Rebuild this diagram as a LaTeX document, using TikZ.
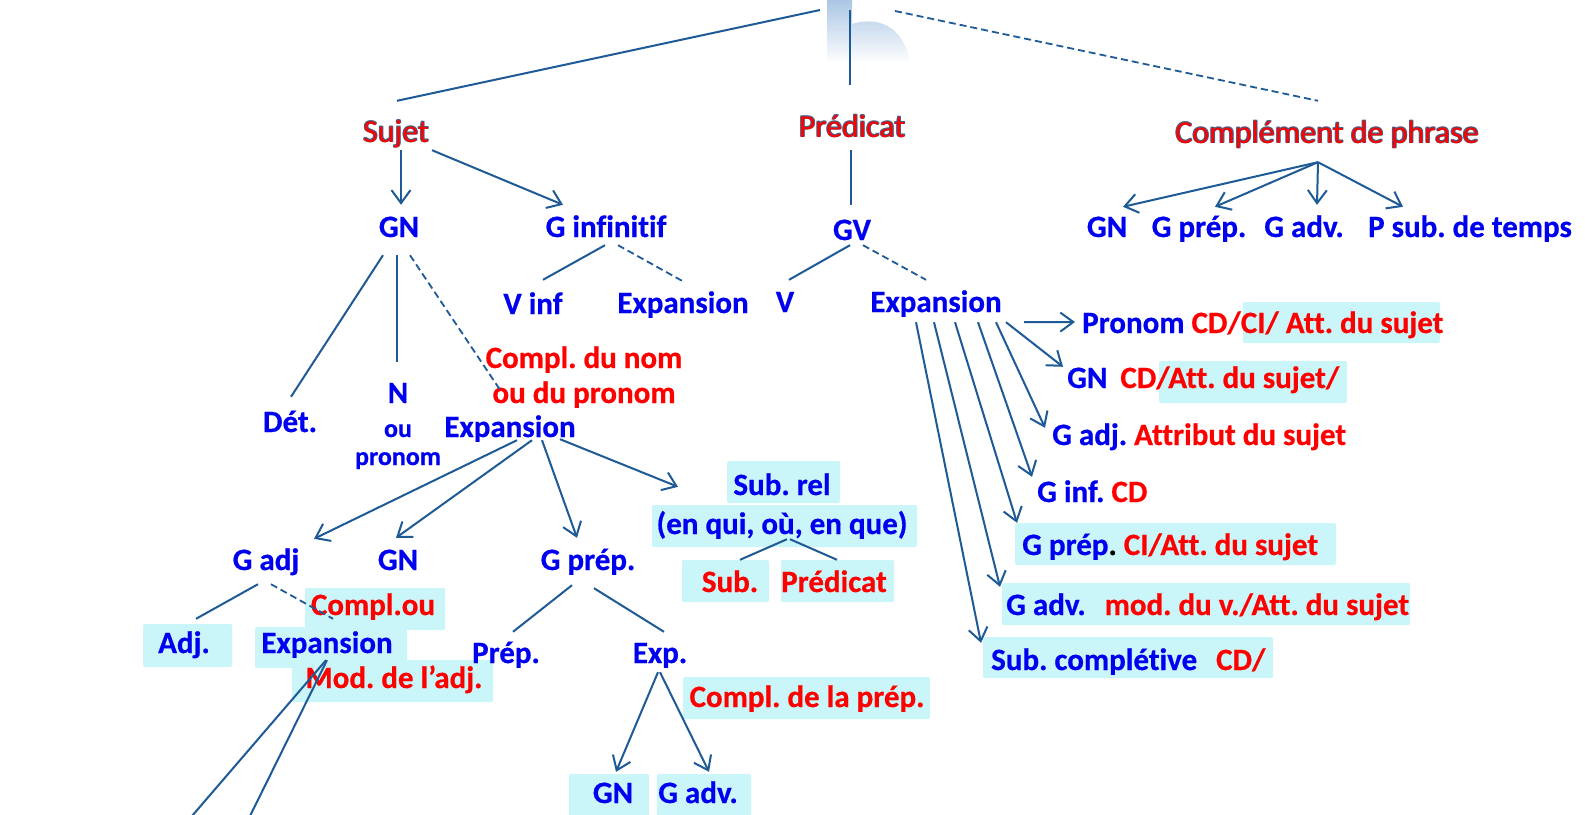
\documentclass[tikz,border=0pt]{standalone}
\usepackage{fontspec}
\setmainfont{Carlito}[BoldFeatures={FakeBold=0.6},Ligatures=NoCommon]
\usetikzlibrary{arrows.meta,calc}
\definecolor{tb}{RGB}{0,0,240}
\definecolor{tr}{RGB}{255,0,0}
\definecolor{ts}{RGB}{70,95,135}
\definecolor{lc}{RGB}{30,90,150}
\definecolor{hc}{RGB}{202,246,249}
\definecolor{wm}{RGB}{150,185,222}
\newcommand{\outl}[1]{%
 \rlap{\hspace{0.8pt}\raisebox{-0.8pt}{\color{ts}#1}}%
 \rlap{\hspace{-0.8pt}\raisebox{0.8pt}{\color{ts}#1}}%
 \rlap{\hspace{0.8pt}\raisebox{0.8pt}{\color{ts}#1}}%
 \rlap{\hspace{-0.8pt}\raisebox{-0.8pt}{\color{ts}#1}}%
 {\color{tr}#1}}
\frenchspacing
\begin{document}
\begin{tikzpicture}[x=1pt,y=-1pt,
  lbl/.style={inner sep=0pt, text height=20pt, text depth=6pt, font=\fontsize{31}{36}\selectfont\bfseries, text=tb},
  rlbl/.style={lbl, text=tr},
  small/.style={lbl, font=\fontsize{26}{30}\selectfont\bfseries},
  ttl/.style={inner sep=0pt, text height=20pt, text depth=6pt, font=\fontsize{32}{38}\selectfont},
  ln/.style={draw=lc, line width=2pt},
  dsh/.style={ln, line width=1.8pt, dash pattern=on 7pt off 4pt},
  arr/.style={ln, -{Straight Barb[length=13pt,width=19pt]}},
  hl/.style={fill=hc, rounded corners=2pt},
]
\useasboundingbox (0,0) rectangle (1585,814);
\fill[white] (0,0) rectangle (1585,814);
% watermark
\shade[top color=wm, bottom color=white, opacity=0.8]
  (827,0) -- (852,0) -- (852,24) .. controls (885,14) and (906,34) .. (910,63) -- (827,63) -- cycle;

% highlight boxes
\fill[hl] (1243,302) rectangle (1440,343);
\fill[hl] (1159,361) rectangle (1347,403);
\fill[hl] (1015,523) rectangle (1336,565);
\fill[hl] (1002,583) rectangle (1410,625);
\fill[hl] (983,637) rectangle (1273,678);
\fill[hl] (727,461) rectangle (840,503);
\fill[hl] (652,505) rectangle (917,547);
\fill[hl] (682,560) rectangle (769,602);
\fill[hl] (781,560) rectangle (894,602);
\fill[hl] (143,624) rectangle (232,667);
\fill[hl] (305,588) rectangle (445,630);
\fill[hl] (255,627) rectangle (407,668);
\fill[hl] (292,660) rectangle (493,702);
\fill[hl] (683,677) rectangle (930,719);
\fill[hl] (569,774) rectangle (649,818);
\fill[hl] (657,774) rectangle (751,818);

% titles
\node[ttl,anchor=base] (sujet) at (396,142) {\outl{Sujet}};
\node[ttl,anchor=base] (pred) at (852,137) {\outl{Prédicat}};
\node[ttl,anchor=base] (comp) at (1327,143) {\outl{Complément de phrase}};

% level 2
\node[lbl,anchor=base] (gn1) at (399,237) {GN};
\node[lbl,anchor=base] (ginf) at (606,237) {G infinitif};
\node[lbl,anchor=base] (gv) at (852,240) {GV};
\node[lbl,anchor=base] (cpgn) at (1107,237) {GN};
\node[lbl,anchor=base] (cpgprep) at (1199,237) {G prép.};
\node[lbl,anchor=base] (cpgadv) at (1304,237) {G adv.};
\node[lbl,anchor=base] (cppsub) at (1470,237) {P sub. de temps};

% level 3
\node[lbl,anchor=base] (vinf) at (533,314) {V inf};
\node[lbl,anchor=base] (exp1) at (683,313) {Expansion};
\node[lbl,anchor=base] (v) at (785,312) {V};
\node[lbl,anchor=base] (exp2) at (936,312) {Expansion};

\node[lbl,anchor=base] (det) at (290,432) {Dét.};
\node[lbl,anchor=base] (n) at (398,403) {N};
\node[small,anchor=base] (nou) at (398,437) {ou};
\node[small,anchor=base] (npron) at (398,465) {pronom};
\node[rlbl,anchor=base] (cnom1) at (584,368) {Compl. du nom};
\node[rlbl,anchor=base] (cnom2) at (584,403) {ou du pronom};
\node[lbl,anchor=base] (exp3) at (510,437) {Expansion};

\node[lbl,anchor=base] (gadj) at (266,570) {G adj};
\node[lbl,anchor=base] (gn2) at (398,570) {GN};
\node[lbl,anchor=base] (gprep) at (588,570) {G prép.};
\node[lbl,anchor=base] (subrel) at (782,495) {Sub. rel};
\node[lbl,anchor=base] (enqui) at (782,534) {(en qui, où, en que)};
\node[rlbl,anchor=base] (sub) at (730,592) {Sub.};
\node[rlbl,anchor=base] (predi) at (834,592) {Prédicat};

\node[lbl,anchor=base] (adj) at (184,653) {Adj.};
\node[rlbl,anchor=base] (complou) at (373,615) {Compl.ou};
\node[lbl,anchor=base] (exp4) at (327,653) {Expansion};
\node[rlbl,anchor=base] (mod) at (394,688) {Mod. de l’adj.};

\node[lbl,anchor=base] (prep) at (506,663) {Prép.};
\node[lbl,anchor=base] (exps) at (660,663) {Exp.};
\node[rlbl,anchor=base] (cprep) at (807,707) {Compl. de la prép.};
\node[lbl,anchor=base] (gn3) at (613,803) {GN};
\node[lbl,anchor=base] (gadv3) at (698,803) {G adv.};

% right column
\node[lbl,anchor=base west] (pronomR) at (1082,333) {Pronom {\color{tr}CD/CI/ Att. du sujet}};
\node[lbl,anchor=base west] (gnR) at (1067,388) {GN\hspace{6pt} {\color{tr}CD/Att. du sujet/}};
\node[lbl,anchor=base west] (gadjR) at (1052,445) {G adj. {\color{tr}Attribut du sujet}};
\node[lbl,anchor=base west] (ginfR) at (1037,502) {G inf. {\color{tr}CD}};
\node[lbl,anchor=base west] (gprepR) at (1022,555) {G prép{\color{black}.} {\color{tr}CI/Att. du sujet}};
\node[lbl,anchor=base west] (gadvR) at (1006,615) {G adv.\hspace{12pt} {\color{tr}mod. du v./Att. du sujet}};
\node[lbl,anchor=base west] (subcR) at (991,670) {Sub. complétive\hspace{12pt} {\color{tr}CD/}};

% top connectors
\coordinate (topL) at (820,10);
\coordinate (topM) at (850,10);
\coordinate (topR) at (895,11);
\draw[ln] (topL) -- ($(sujet.north)+(1,-21)$);
\draw[ln] (topM) -- ($(pred.north)+(-2,-32)$);
\draw[dsh] (topR) -- ($(comp.north)+(-9,-22)$);

% sujet
\draw[arr] ($(sujet.south)+(5,2)$) -- ($(gn1.north)+(2,-12)$);
\draw[arr] ($(sujet.south)+(36,2)$) -- ($(ginf.north)+(-43,-12)$);
% predicat
\draw[ln] ($(pred.south)+(-1,7)$) -- ($(gv.north)+(-1,-15)$);
% complement de phrase
\draw[arr] ($(comp.south)+(-9,13)$) -- ($(cpgn.north)+(16,-10)$);
\draw[arr] ($(comp.south)+(-9,13)$) -- ($(cpgprep.north)+(16,-10)$);
\draw[arr] ($(comp.south)+(-9,13)$) -- ($(cpgadv.north)+(13,-12)$);
\draw[arr] ($(comp.south)+(-9,13)$) -- ($(cppsub.north)+(-67,-10)$);

% GN
\draw[ln] ($(gn1.south)+(-16,12)$) -- ($(det.north)+(1,-15)$);
\draw[ln] ($(gn1.south)+(-2,12)$) -- ($(n.north)+(-1,-21)$);
\draw[dsh] ($(gn1.south)+(11,12)$) -- ($(exp3.north)+(-10,-27)$);
% G infinitif
\draw[ln] ($(ginf.south)+(-1,2)$) -- ($(vinf.north)+(10,-14)$);
\draw[dsh] ($(ginf.south)+(12,2)$) -- ($(exp1.north)+(-1,-12)$);
% GV
\draw[ln] ($(gv.south)+(-2,-1)$) -- ($(v.north)+(4,-12)$);
\draw[dsh] ($(gv.south)+(11,-1)$) -- ($(exp2.north)+(-10,-12)$);

% Expansion of GN
\draw[arr] ($(exp3.south)+(7,-3)$) -- ($(gadj.north)+(48,-11)$);
\draw[arr] ($(exp3.south)+(22,-3)$) -- ($(gn2.north)+(-2,-12)$);
\draw[arr] ($(exp3.south)+(32,-3)$) -- ($(gprep.north)+(-11,-12)$);
\draw[arr] ($(exp3.south)+(50,-4)$) -- ($(subrel.north)+(-104,12)$);
% Sub rel
\draw[ln] ($(enqui.south)+(5,-1)$) -- ($(sub.north)+(10,-12)$);
\draw[ln] ($(enqui.south)+(8,-1)$) -- ($(predi.north)+(3,-12)$);
% G adj
\draw[ln] ($(gadj.south)+(-8,8)$) -- ($(adj.north)+(12,-14)$);
\draw[dsh] ($(gadj.south)+(5,8)$) -- ($(exp4.north)+(6,-14)$);
\coordinate (cutA) at (192,816);
\coordinate (cutB) at (250,816);
\draw[ln] ($(exp4.south)+(-1,1)$) -- (cutA);
\draw[ln] ($(exp4.south)+(0,1)$) -- (cutB);
% G prep
\draw[ln] ($(gprep.south)+(-16,9)$) -- ($(prep.north)+(7,-11)$);
\draw[ln] ($(gprep.south)+(6,12)$) -- ($(exps.north)+(4,-11)$);
\draw[arr] ($(exps.south)+(-2,3)$) -- ($(gn3.north)+(3,-11)$);
\draw[arr] ($(exps.south)+(0,3)$) -- ($(gadv3.north)+(11,-11)$);

% Expansion of GV
\draw[arr] ($(exp2.south)+(88,4)$) -- ($(pronomR.west)+(-7,-4)$);
\draw[arr] ($(exp2.south)+(70,4)$) -- ($(gnR.north west)+(-4,-1)$);
\draw[arr] ($(exp2.south)+(60,4)$) -- ($(gadjR.north west)+(-7,3)$);
\draw[arr] ($(exp2.south)+(42,4)$) -- ($(ginfR.north west)+(-5,-5)$);
\draw[arr] ($(exp2.south)+(19,4)$) -- ($(gprepR.north west)+(-5,-12)$);
\draw[arr] ($(exp2.south)+(-2,4)$) -- ($(gadvR.north west)+(-6,-8)$);
\draw[arr] ($(exp2.south)+(-20,4)$) -- ($(subcR.north west)+(-10,-7)$);
\end{tikzpicture}
\end{document}
